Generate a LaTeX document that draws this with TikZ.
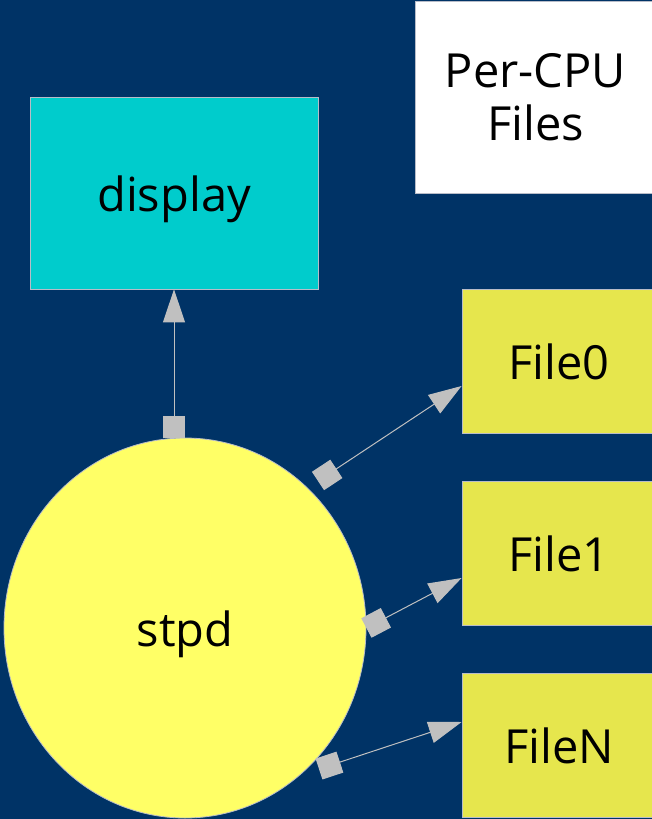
\documentclass[tikz,border=0pt]{standalone}
\usepackage{fontspec}
\setmainfont{Open Sans}
\usetikzlibrary{arrows.meta,calc,shapes.geometric}

\definecolor{bgblue}{HTML}{003366}
\definecolor{dispcyan}{HTML}{00CCCC}
\definecolor{daemonyellow}{HTML}{FFFF66}
\definecolor{fileyellow}{HTML}{E6E64D}
\definecolor{linkgray}{HTML}{C0C0C0}
\definecolor{edgegray}{HTML}{B8BCC8}

\tikzset{
  label font/.style={font=\fontsize{47}{53}\selectfont, text=black, align=center},
  one line/.style={text height=38pt, text depth=2pt},
  boxnode/.style={rectangle, draw=edgegray, line width=0.8pt, inner sep=0pt, label font},
  filebox/.style={boxnode, one line, fill=fileyellow, minimum width=194pt, minimum height=144pt},
  link/.style={draw=linkgray, line width=1pt,
    {Square[length=22pt,width=22pt]}-{Triangle[length=33pt,width=22pt]}},
}

\begin{document}
\begin{tikzpicture}[x=1pt,y=-1pt]
  % page frame and backdrop
  \useasboundingbox (0,0) rectangle (652,819);
  \clip (0,0) rectangle (652,819);
  \fill[bgblue] (0,0) rectangle (652,819);

  % legend box, top right
  \node[boxnode, fill=white, minimum width=241pt, minimum height=192pt]
    (percpu) at (535.5,97) {Per-CPU\\Files};

  % viewer process
  \node[boxnode, one line, fill=dispcyan, minimum width=288pt, minimum height=192pt]
    (display) at (174,193) {display};

  % daemon
  \node[ellipse, draw=edgegray, line width=0.8pt, fill=daemonyellow,
        minimum width=362pt, minimum height=380pt, inner sep=0pt, label font, one line]
    (stpd) at (185,628) {stpd};

  % per-CPU output files
  \node[filebox] (f0) at (559,361) {File0};
  \node[filebox] (f1) at (559,553) {File1};
  \node[filebox] (fN) at (559,745) {FileN};

  % connectors
  \draw[link] (display.south |- stpd.north) -- (display.south);
  \draw[link] ($(stpd.center)+(133,-147)$) -- ($(f0.west)+(0,25)$);
  \draw[link] (stpd.east) -- ($(f1.west)+(0,25)$);
  \draw[link] ($(stpd.center)+(134,141)$) -- ($(fN.west)+(0,-23)$);
\end{tikzpicture}
\end{document}
